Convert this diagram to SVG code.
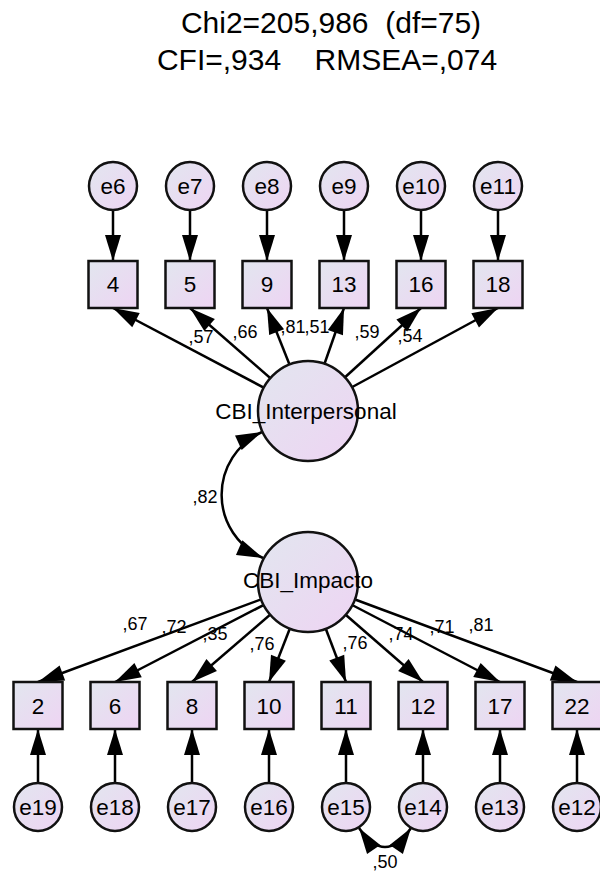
<svg xmlns="http://www.w3.org/2000/svg" width="600" height="876" viewBox="0 0 600 876">
  <style>
    text { font-family: "Liberation Sans", Arial, sans-serif; fill: #000; }
    .title { font-size: 30px; text-anchor: middle; }
    .lbl { font-size: 22.5px; text-anchor: middle; }
    .est { font-size: 18px; text-anchor: middle; }
    .node { fill: url(#fillGrad); stroke: #111; stroke-width: 2.5; }
    .edge { fill: none; stroke: #000; stroke-width: 2.5; marker-end: url(#ah); }
    .cov { fill: none; stroke: #000; stroke-width: 2.5; marker-start: url(#ah); marker-end: url(#ah); }
  </style>
  <defs>
    <linearGradient id="fillGrad" x1="0" y1="0" x2="1" y2="1">
      <stop offset="0" stop-color="#e2e6ef"/>
      <stop offset="1" stop-color="#eed4f3"/>
    </linearGradient>
    <marker id="ah" markerUnits="userSpaceOnUse" markerWidth="26" markerHeight="16" refX="26" refY="8" orient="auto-start-reverse" overflow="visible">
      <path d="M0,0 L26,8 L0,16 Z" fill="#000"/>
    </marker>
  </defs>

  <rect width="600" height="876" fill="#fff"/>

  <!-- fit statistics -->
  <g id="fit">
    <text class="title" x="331" y="33" xml:space="preserve">Chi2=205,986  (df=75)</text>
    <text class="title" x="327" y="70" xml:space="preserve">CFI=,934    RMSEA=,074</text>
  </g>

  <!-- connectors -->
  <g id="connectors">
    <!-- error terms to top indicators -->
    <line class="edge" x1="113" y1="210" x2="113" y2="261"/>
    <line class="edge" x1="190" y1="210" x2="190" y2="261"/>
    <line class="edge" x1="267" y1="210" x2="267" y2="261"/>
    <line class="edge" x1="344" y1="210" x2="344" y2="261"/>
    <line class="edge" x1="421" y1="210" x2="421" y2="261"/>
    <line class="edge" x1="498" y1="210" x2="498" y2="261"/>
    <!-- CBI_Interpersonal loadings -->
    <line class="edge" x1="308" y1="411" x2="113" y2="308"/>
    <line class="edge" x1="308" y1="411" x2="190" y2="308"/>
    <line class="edge" x1="308" y1="411" x2="267" y2="308"/>
    <line class="edge" x1="308" y1="411" x2="344" y2="308"/>
    <line class="edge" x1="308" y1="411" x2="421" y2="308"/>
    <line class="edge" x1="308" y1="411" x2="498" y2="308"/>
    <!-- factor covariance -->
    <path class="cov" d="M262,432 A69,69 0 0 0 263,558"/>
    <!-- CBI_Impacto loadings -->
    <line class="edge" x1="308" y1="582" x2="38" y2="682"/>
    <line class="edge" x1="308" y1="582" x2="115" y2="682"/>
    <line class="edge" x1="308" y1="582" x2="192" y2="682"/>
    <line class="edge" x1="308" y1="582" x2="269" y2="682"/>
    <line class="edge" x1="308" y1="582" x2="346" y2="682"/>
    <line class="edge" x1="308" y1="582" x2="423" y2="682"/>
    <line class="edge" x1="308" y1="582" x2="500" y2="682"/>
    <line class="edge" x1="308" y1="582" x2="577" y2="682"/>
    <!-- error terms to bottom indicators -->
    <line class="edge" x1="38" y1="783" x2="38" y2="729"/>
    <line class="edge" x1="115" y1="783" x2="115" y2="729"/>
    <line class="edge" x1="192" y1="783" x2="192" y2="729"/>
    <line class="edge" x1="269" y1="783" x2="269" y2="729"/>
    <line class="edge" x1="346" y1="783" x2="346" y2="729"/>
    <line class="edge" x1="423" y1="783" x2="423" y2="729"/>
    <line class="edge" x1="500" y1="783" x2="500" y2="729"/>
    <line class="edge" x1="577" y1="783" x2="577" y2="729"/>
    <!-- e15 / e14 covariance -->
    <path class="cov" d="M359,828 Q385,866 411,828"/>
  </g>

  <!-- estimates -->
  <g id="estimates">
    <text class="est" x="201" y="343">,57</text>
    <text class="est" x="245" y="338">,66</text>
    <text class="est" x="293" y="333">,81</text>
    <text class="est" x="317" y="333">,51</text>
    <text class="est" x="367" y="338">,59</text>
    <text class="est" x="410" y="342">,54</text>
    <text class="est" x="205" y="503">,82</text>
    <text class="est" x="135" y="630">,67</text>
    <text class="est" x="174" y="633">,72</text>
    <text class="est" x="215" y="640">,35</text>
    <text class="est" x="262" y="650">,76</text>
    <text class="est" x="355" y="649">,76</text>
    <text class="est" x="401" y="640">,74</text>
    <text class="est" x="442" y="633">,71</text>
    <text class="est" x="481" y="631">,81</text>
    <text class="est" x="385" y="868">,50</text>
  </g>

  <!-- top error terms -->
  <g id="e6"><circle class="node" cx="113" cy="186" r="24"/><text class="lbl" x="113" y="194">e6</text></g>
  <g id="e7"><circle class="node" cx="190" cy="186" r="24"/><text class="lbl" x="190" y="194">e7</text></g>
  <g id="e8"><circle class="node" cx="267" cy="186" r="24"/><text class="lbl" x="267" y="194">e8</text></g>
  <g id="e9"><circle class="node" cx="344" cy="186" r="24"/><text class="lbl" x="344" y="194">e9</text></g>
  <g id="e10"><circle class="node" cx="421" cy="186" r="24"/><text class="lbl" x="421" y="194">e10</text></g>
  <g id="e11"><circle class="node" cx="498" cy="186" r="24"/><text class="lbl" x="498" y="194">e11</text></g>

  <!-- top indicators -->
  <g id="v4"><rect class="node" x="88.5" y="261" width="49" height="47"/><text class="lbl" x="113" y="292">4</text></g>
  <g id="v5"><rect class="node" x="165.5" y="261" width="49" height="47"/><text class="lbl" x="190" y="292">5</text></g>
  <g id="v9"><rect class="node" x="242.5" y="261" width="49" height="47"/><text class="lbl" x="267" y="292">9</text></g>
  <g id="v13"><rect class="node" x="319.5" y="261" width="49" height="47"/><text class="lbl" x="344" y="292">13</text></g>
  <g id="v16"><rect class="node" x="396.5" y="261" width="49" height="47"/><text class="lbl" x="421" y="292">16</text></g>
  <g id="v18"><rect class="node" x="473.5" y="261" width="49" height="47"/><text class="lbl" x="498" y="292">18</text></g>

  <!-- latent factors -->
  <g id="CBI_Interpersonal"><circle class="node" cx="308" cy="411" r="50"/><text class="lbl" x="306" y="419">CBI_Interpersonal</text></g>
  <g id="CBI_Impacto"><circle class="node" cx="308" cy="582" r="50"/><text class="lbl" x="308" y="588">CBI_Impacto</text></g>

  <!-- bottom indicators -->
  <g id="v2"><rect class="node" x="13.5" y="682" width="49" height="47"/><text class="lbl" x="38" y="714">2</text></g>
  <g id="v6"><rect class="node" x="90.5" y="682" width="49" height="47"/><text class="lbl" x="115" y="714">6</text></g>
  <g id="v8"><rect class="node" x="167.5" y="682" width="49" height="47"/><text class="lbl" x="192" y="714">8</text></g>
  <g id="v10"><rect class="node" x="244.5" y="682" width="49" height="47"/><text class="lbl" x="269" y="714">10</text></g>
  <g id="v11"><rect class="node" x="321.5" y="682" width="49" height="47"/><text class="lbl" x="346" y="714">11</text></g>
  <g id="v12"><rect class="node" x="398.5" y="682" width="49" height="47"/><text class="lbl" x="423" y="714">12</text></g>
  <g id="v17"><rect class="node" x="475.5" y="682" width="49" height="47"/><text class="lbl" x="500" y="714">17</text></g>
  <g id="v22"><rect class="node" x="552.5" y="682" width="49" height="47"/><text class="lbl" x="577" y="714">22</text></g>

  <!-- bottom error terms -->
  <g id="e19"><circle class="node" cx="38" cy="807" r="24"/><text class="lbl" x="38" y="815">e19</text></g>
  <g id="e18"><circle class="node" cx="115" cy="807" r="24"/><text class="lbl" x="115" y="815">e18</text></g>
  <g id="e17"><circle class="node" cx="192" cy="807" r="24"/><text class="lbl" x="192" y="815">e17</text></g>
  <g id="e16"><circle class="node" cx="269" cy="807" r="24"/><text class="lbl" x="269" y="815">e16</text></g>
  <g id="e15"><circle class="node" cx="346" cy="807" r="24"/><text class="lbl" x="346" y="815">e15</text></g>
  <g id="e14"><circle class="node" cx="423" cy="807" r="24"/><text class="lbl" x="423" y="815">e14</text></g>
  <g id="e13"><circle class="node" cx="500" cy="807" r="24"/><text class="lbl" x="500" y="815">e13</text></g>
  <g id="e12"><circle class="node" cx="577" cy="807" r="24"/><text class="lbl" x="577" y="815">e12</text></g>
</svg>
